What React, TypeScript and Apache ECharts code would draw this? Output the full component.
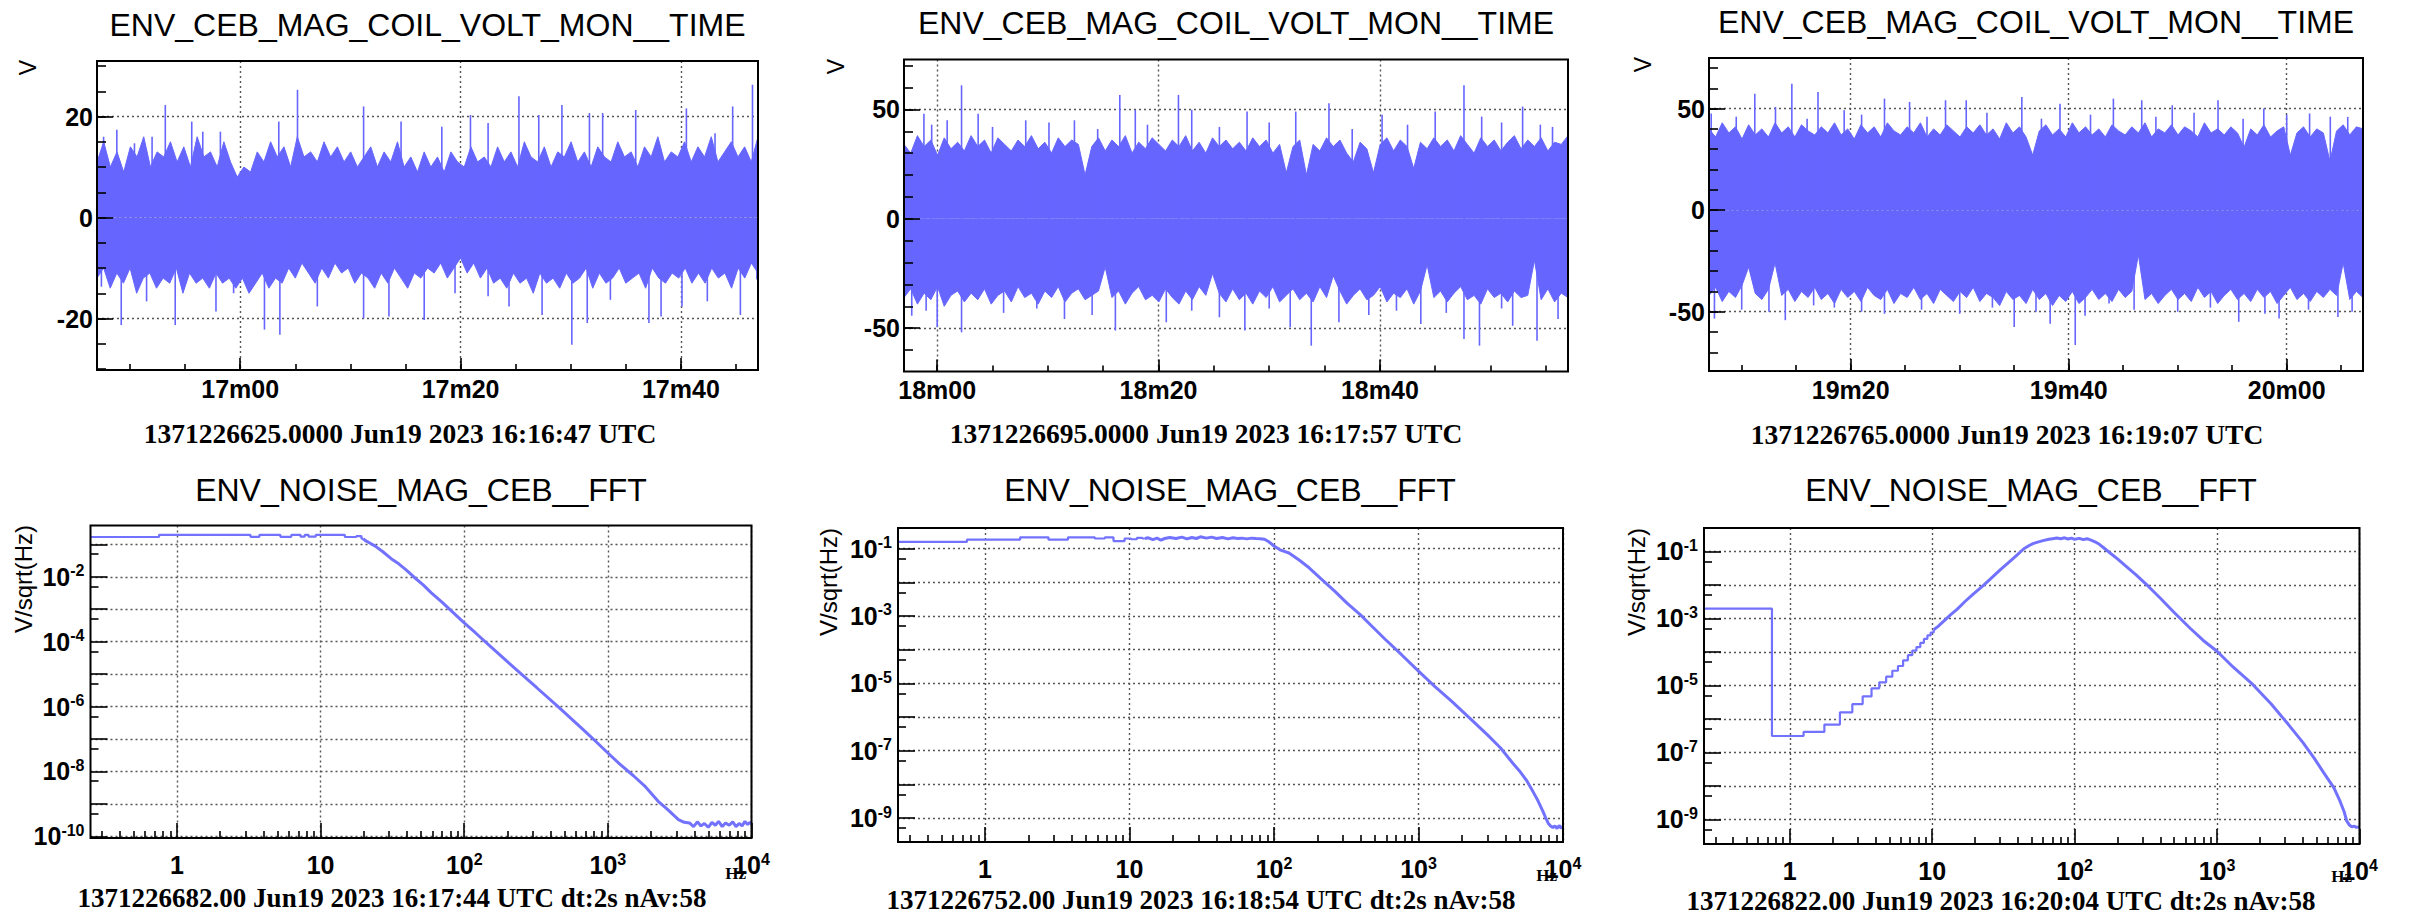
import React, { useEffect, useRef } from 'react';
import * as echarts from 'echarts';

const SANS = '"Liberation Sans", Arial, Helvetica, sans-serif';
const SERIF = '"Liberation Serif", "Times New Roman", Times, serif';
const BAND = '#6666ff';
const FFT_COLOR = '#7272ff';

// ---------- texts ----------
const timeTitle = 'ENV_CEB_MAG_COIL_VOLT_MON__TIME';
const fftTitle = 'ENV_NOISE_MAG_CEB__FFT';
const timeStamps = [
  '1371226625.0000 Jun19 2023 16:16:47 UTC',
  '1371226695.0000 Jun19 2023 16:17:57 UTC',
  '1371226765.0000 Jun19 2023 16:19:07 UTC',
];
const fftStamps = [
  '1371226682.00 Jun19 2023 16:17:44 UTC dt:2s nAv:58',
  '1371226752.00 Jun19 2023 16:18:54 UTC dt:2s nAv:58',
  '1371226822.00 Jun19 2023 16:20:04 UTC dt:2s nAv:58',
];
const timeYTitle = 'V';
const fftYTitle = 'V/sqrt(Hz)';
const fftXTitle = 'Hz';

// ---------- time-series axes (seconds since 16:00:00) ----------
const timeStart = [1007, 1077, 1147];
const timeEnd = [1067, 1137, 1207];
const timeMajor = [
  [1020, 1040, 1060],
  [1080, 1100, 1120],
  [1160, 1180, 1200],
];
const timeMinor = [
  [1010, 1015, 1020, 1025, 1030, 1035, 1040, 1045, 1050, 1055, 1060, 1065],
  [1080, 1085, 1090, 1095, 1100, 1105, 1110, 1115, 1120, 1125, 1130, 1135],
  [1150, 1155, 1160, 1165, 1170, 1175, 1180, 1185, 1190, 1195, 1200, 1205],
];
const voltMin = [-30.2, -69.8, -79.2];
const voltMax = [31, 72.8, 74.9];
const voltMajor = [
  [-20, 0, 20],
  [-50, 0, 50],
  [-50, 0, 50],
];
const voltMinor = [
  [-30, -25, -20, -15, -10, -5, 0, 5, 10, 15, 20, 25, 30],
  [-70, -60, -50, -40, -30, -20, -10, 0, 10, 20, 30, 40, 50, 60, 70],
  [-70, -60, -50, -40, -30, -20, -10, 0, 10, 20, 30, 40, 50, 60, 70],
];

// ---------- time-series values (envelope of the dense trace) ----------
const upper1 = [
  11, 15, 10, 13, 9, 14, 12, 16, 10, 13, 12, 15, 11, 14, 10, 16, 12, 13, 10, 15, 11,
  8, 10, 9,
  13, 11, 15, 12, 14, 10, 16, 12, 13, 11, 15, 12, 14, 11, 13, 10,
  12, 14, 10, 13, 11, 15, 10, 12, 9, 13,
  10, 12, 9, 13, 11, 10, 14, 11, 12, 10,
  14, 11, 13, 10, 15, 12, 11, 14, 10, 13,
  12, 15, 11, 13, 10, 14, 12, 11, 15, 12,
  13, 10, 14, 12, 16, 11, 13, 12, 15, 11,
  14, 12, 16, 11, 13, 15, 12, 14, 11, 16,
];
const lower1 = [
  -12, -10, -14, -11, -13, -10, -15, -12, -11, -14, -12, -13, -10, -15, -11, -13, -12, -14, -11, -13, -12,
  -14, -12, -15, -13, -11, -14, -12, -13,
  -10, -12, -9, -11, -13, -10, -12, -9, -11, -10, -13, -11,
  -12, -14, -11, -13, -10, -12, -14, -11, -12, -10,
  -11, -9, -12, -10, -8, -11, -9, -12, -10, -13,
  -12, -14, -11, -13, -12, -15, -11, -13, -12, -14,
  -11, -13, -12, -10, -14, -11, -13, -12, -10, -13,
  -12, -11, -14, -10, -12, -13, -11, -12, -10, -13,
  -11, -13, -10, -12, -11, -14, -10, -12, -9, -11,
];
const spikes1 = [
  [1007.6, 16], [1008.8, 17.4], [1010.4, 14.7], [1012.0, 16], [1013.2, 22.3], [1015.6, 19], [1016.6, 17],
  [1018.2, 17], [1023.5, 19], [1025.2, 25.3], [1031.2, 22], [1034.6, 19], [1038.3, 18], [1040.9, 20.3],
  [1042.5, 18.7], [1045.3, 24], [1047.1, 20.3], [1049.2, 22.3], [1051.7, 20.7], [1052.9, 20.7],
  [1055.9, 21.3], [1060.5, 21.6], [1063.1, 16.7], [1064.7, 22], [1066.5, 26.3],
  [1007.4, -13.7], [1009.2, -21.3], [1011.5, -16.6], [1014.1, -21.3], [1017.8, -18.6], [1019.4, -15],
  [1022.2, -22.2], [1023.6, -23.2], [1027.0, -17.6], [1031.2, -20], [1033.5, -19.6], [1036.7, -20.3],
  [1039.5, -15], [1042.5, -15.6], [1044.4, -17.6], [1047.4, -19.3], [1050.1, -25.2], [1051.5, -20.9],
  [1053.6, -16.3], [1057.1, -20.9], [1058.2, -19.6], [1060.1, -17.6], [1062.4, -16.6], [1065.4, -19.3],
  [1066.9, -12.3],
];

const upper2 = [
  34, 30, 38, 33, 36, 29, 37, 32, 35, 31,
  38, 33, 36, 30, 37, 34, 31, 36, 33, 38,
  32, 35, 30, 37, 33, 36, 34, 20, 33, 37,
  31, 36, 33, 38, 30, 35, 32, 37, 34, 31,
  36, 33, 38, 31, 35, 30, 37, 33, 36, 32,
  35, 31, 37, 33, 36, 30, 34, 21, 33, 36,
  20, 34, 31, 37, 33, 36, 30, 26, 35, 32,
  21, 34, 37, 31, 36, 33, 23, 35, 32, 37,
  33, 36, 31, 38, 34, 30, 37, 33, 36, 31,
  35, 38, 32, 36, 33, 37, 31, 35, 34, 38,
];
const lower2 = [
  -36, -32, -39, -34, -37, -31, -40, -35, -33, -38,
  -34, -37, -32, -39, -35, -33, -38, -31, -36, -34,
  -39, -33, -36, -31, -38, -34, -32, -37, -35, -33,
  -22, -36, -33, -39, -34, -31, -37, -35, -38, -32,
  -36, -39, -33, -37, -31, -35, -25, -34, -38, -32,
  -37, -34, -39, -33, -36, -31, -38, -35, -32, -37,
  -34, -38, -31, -36, -26, -33, -39, -35, -32, -37,
  -35, -31, -38, -34, -36, -32, -39, -33, -21, -36,
  -33, -38, -34, -31, -37, -35, -39, -32, -36, -34,
  -38, -33, -36, -35, -19, -37, -32, -38, -34, -36,
];
const spikes2 = [
  [1078.8, 48], [1080.9, 45], [1082.2, 61], [1083.7, 48], [1088.0, 45], [1092.4, 45], [1096.5, 56.6],
  [1097.9, 49.8], [1101.8, 56.6], [1103.0, 49.8], [1108.0, 49], [1112.4, 49], [1115.4, 52.8],
  [1120.2, 47.5], [1125.0, 49], [1127.6, 61], [1129.2, 46.7], [1132.9, 51.3], [1134.5, 43], [1135.6, 42],
  [1079.5, 43], [1085.0, 42], [1090.1, 44], [1094.5, 41], [1099.0, 43], [1105.5, 42], [1110.0, 44],
  [1117.5, 41], [1122.5, 43], [1131.0, 44],
  [1077.7, -44.3], [1080.0, -49.6], [1082.2, -51.9], [1091.5, -45.8], [1096.1, -51.1], [1100.7, -47.3],
  [1107.8, -51.1], [1111.9, -49.6], [1113.8, -58], [1116.3, -47.3], [1123.7, -48.1], [1127.6, -54.9],
  [1129.0, -58], [1132.0, -48.9], [1134.2, -55.7], [1136.1, -45.8],
  [1079.0, -42], [1086.0, -43], [1089.0, -41], [1094.0, -44], [1103.0, -42], [1105.5, -45], [1110.0, -41],
  [1119.0, -44], [1121.5, -42], [1126.0, -43], [1131.0, -41],
];

const upper3 = [
  40, 36, 43, 38, 41, 35, 42, 37, 40, 36,
  43, 38, 41, 36, 42, 39, 37, 41, 38, 43,
  37, 40, 35, 42, 38, 41, 36, 43, 39, 37,
  41, 38, 43, 36, 40, 37, 42, 39, 36, 41,
  38, 42, 37, 40, 35, 43, 38, 41, 36, 27,
  39, 42, 37, 40, 36, 43, 38, 41, 37, 40,
  36, 42, 39, 37, 41, 38, 43, 36, 40, 38,
  42, 37, 41, 39, 36, 43, 38, 40, 37, 41,
  38, 31, 40, 37, 42, 36, 39, 41, 27, 38,
  41, 36, 40, 38, 24, 39, 42, 37, 41, 40,
];
const lower3 = [
  -42, -38, -45, -40, -43, -37, -28, -41, -44, -39,
  -26, -42, -39, -45, -40, -43, -38, -44, -41, -46,
  -39, -43, -40, -45, -38, -42, -44, -39, -46, -41,
  -43, -38, -44, -41, -46, -39, -42, -45, -40, -43,
  -38, -45, -41, -43, -47, -40, -44, -42, -46, -39,
  -44, -41, -47, -42, -45, -40, -46, -43, -39, -44,
  -41, -45, -39, -43, -40, -22, -44, -41, -46, -42,
  -39, -44, -41, -45, -38, -43, -40, -46, -42, -39,
  -44, -41, -45, -39, -43, -40, -46, -42, -38, -44,
  -41, -45, -40, -43, -39, -42, -26, -44, -40, -43,
];
const spikes3 = [
  [1147.2, 47.6], [1151.2, 57.3], [1153.1, 50.8], [1154.6, 62.2], [1157.0, 58.1], [1159.4, 49.2],
  [1163.1, 54.9], [1165.4, 53.3], [1168.7, 54.1], [1170.6, 54.1], [1175.7, 55.7], [1179.2, 52.4],
  [1184.1, 54.9], [1186.7, 54.1], [1189.5, 51.6], [1193.7, 54.1], [1197.9, 50], [1202.1, 47.6], [1205.6, 45.9],
  [1149.5, 46], [1156.0, 45], [1161.0, 47], [1167.0, 46], [1172.5, 48], [1177.5, 45], [1182.0, 47],
  [1188.0, 46], [1191.5, 48], [1196.0, 45], [1200.0, 47], [1204.0, 46],
  [1147.5, -53.4], [1154.0, -54.2], [1156.6, -46.9], [1163.1, -51], [1175.0, -57.5], [1178.3, -55.9],
  [1180.6, -66.4], [1183.7, -46], [1195.6, -55], [1199.3, -53.4], [1204.7, -52.6],
  [1150.0, -49], [1152.5, -50], [1158.5, -48], [1161.0, -50], [1166.5, -49], [1170.0, -51], [1173.0, -48],
  [1177.0, -50], [1181.5, -52], [1186.0, -49], [1190.0, -50], [1193.0, -48], [1198.0, -51], [1202.0, -49],
  [1206.0, -50],
];

const upperEnv = [upper1, upper2, upper3];
const lowerEnv = [lower1, lower2, lower3];
const spikes = [spikes1, spikes2, spikes3];

// ---------- FFT axes ----------
const freqMin = 0.25;
const freqMax = 10000;
const freqMajor = [1, 10, 100, 1000, 10000];
const freqMinor = [
  0.3, 0.4, 0.5, 0.6, 0.7, 0.8, 0.9,
  2, 3, 4, 5, 6, 7, 8, 9,
  20, 30, 40, 50, 60, 70, 80, 90,
  200, 300, 400, 500, 600, 700, 800, 900,
  2000, 3000, 4000, 5000, 6000, 7000, 8000, 9000,
];
const asdMin = [8.9e-11, 1.94e-10, 1.85e-10];
const asdMax = [0.38, 0.41, 0.5];
const asdDecades = [1e-10, 1e-9, 1e-8, 1e-7, 1e-6, 1e-5, 1e-4, 1e-3, 1e-2, 1e-1];
const asdLabels = [
  [1e-10, 1e-8, 1e-6, 1e-4, 1e-2],
  [1e-9, 1e-7, 1e-5, 1e-3, 1e-1],
  [1e-9, 1e-7, 1e-5, 1e-3, 1e-1],
];
const asdMinor = [5e-10, 5e-9, 5e-8, 5e-7, 5e-6, 5e-5, 5e-4, 5e-3, 5e-2];

// ---------- FFT values [Hz, V/sqrt(Hz)] ----------
const fft4Step = [
  [0.25, 0.168], [0.75, 0.195], [3.25, 0.17], [3.75, 0.195], [5.25, 0.17], [6.25, 0.195], [7.25, 0.172],
  [7.75, 0.195], [8.25, 0.172], [9.25, 0.195], [14.75, 0.168], [17.75, 0.18], [19.25, 0.15], [19.75, 0.15],
];
const fft4Line = [
  [19.75, 0.15], [20.5, 0.13], [22, 0.11], [24, 0.088], [27, 0.06], [31, 0.036], [35, 0.025], [39, 0.0168],
  [45, 0.0095], [52, 0.0055], [59, 3.2e-3], [70, 1.65e-3], [82, 8.6e-4], [100, 3.8e-4], [120, 1.85e-4],
  [150, 7.6e-5], [198, 2.5e-5], [250, 1e-5], [320, 3.8e-6], [446, 1.03e-6], [560, 4.1e-7], [700, 1.65e-7],
  [850, 7.4e-8], [1000, 3.7e-8], [1200, 1.75e-8], [1500, 7.5e-9], [1800, 3.6e-9], [2240, 1.2e-9],
  [2600, 6.8e-10], [2870, 4.5e-10], [3100, 3.3e-10], [3400, 2.7e-10], [3700, 2.6e-10], [3950, 2.0e-10],
  [4200, 2.8e-10], [4450, 2.1e-10], [4700, 2.5e-10], [5000, 1.9e-10], [5300, 2.7e-10], [5600, 2.2e-10],
  [5900, 2.9e-10], [6250, 2.0e-10], [6600, 2.6e-10], [7000, 2.2e-10], [7400, 2.8e-10], [7800, 2.0e-10],
  [8200, 2.5e-10], [8600, 2.1e-10], [9000, 2.9e-10], [9400, 2.3e-10], [9700, 2.7e-10], [10000, 2.4e-10],
];
const fft5Step = [
  [0.25, 0.158], [0.75, 0.185], [1.75, 0.217], [2.75, 0.185], [3.75, 0.217], [5.75, 0.2], [6.75, 0.215],
  [7.75, 0.168], [9.25, 0.2], [10.25, 0.19], [11.25, 0.21], [12.25, 0.2], [12.75, 0.2],
];
const fft5Line = [
  [12.75, 0.2], [13.5, 0.21], [14.5, 0.185], [15.5, 0.205], [16.5, 0.18], [17.5, 0.2], [19, 0.215],
  [21, 0.2], [23, 0.22], [25, 0.195], [27, 0.215], [29, 0.2], [31, 0.225], [34, 0.205], [37, 0.22],
  [40, 0.2], [44, 0.215], [48, 0.195], [52, 0.21], [56, 0.2], [60, 0.205], [65, 0.195], [70, 0.205],
  [75, 0.2], [80, 0.198], [86, 0.19], [92, 0.16], [100, 0.12], [110, 0.092], [127, 0.074], [150, 0.045],
  [175, 0.027], [210, 0.013], [264, 5.4e-3], [320, 2.4e-3], [395, 1.1e-3], [480, 4.8e-4], [590, 2e-4],
  [760, 7.2e-5], [1000, 2.3e-5], [1300, 8e-6], [1700, 2.9e-6], [2300, 8.6e-7], [2990, 3e-7], [3700, 1.2e-7],
  [4480, 4.3e-8], [5000, 2.5e-8], [5600, 1.3e-8], [6170, 6.3e-9], [6700, 3.3e-9], [7250, 1.6e-9],
  [7600, 1e-9], [7900, 7e-10], [8200, 5.8e-10], [8500, 5.2e-10], [8800, 5.8e-10], [9100, 4.9e-10],
  [9400, 6e-10], [9700, 5e-10], [10000, 5.6e-10],
];
const fft6Step = [
  [0.25, 1.97e-3], [0.75, 3.1e-7], [1.25, 4.1e-7], [1.75, 6.8e-7], [2.25, 1.58e-6], [2.75, 2.78e-6],
  [3.25, 4.7e-6], [3.75, 8.2e-6], [4.25, 1.24e-5], [4.75, 1.82e-5], [5.25, 2.74e-5], [5.75, 3.8e-5],
  [6.25, 5.6e-5], [6.75, 8e-5], [7.25, 1.1e-4], [7.75, 1.4e-4], [8.25, 1.87e-4], [8.75, 2.45e-4],
  [9.25, 3.1e-4], [9.75, 3.8e-4], [10.25, 4.6e-4],
];
const fft6Line = [
  [10.25, 4.6e-4], [11, 5.8e-4], [12, 8.2e-4], [13.5, 1.3e-3], [15, 1.9e-3], [17, 3.2e-3], [19.5, 5.4e-3],
  [22.8, 9.5e-3], [26, 0.016], [30, 0.028], [34, 0.045], [39, 0.075], [44, 0.12], [48, 0.15], [51, 0.17],
  [55, 0.19], [60, 0.21], [66, 0.23], [70, 0.24], [75, 0.25], [80, 0.24], [85, 0.255], [90, 0.235],
  [95, 0.25], [100, 0.23], [108, 0.245], [115, 0.225], [122, 0.24], [133, 0.21], [140, 0.19], [150, 0.16],
  [163, 0.12], [180, 0.085], [200, 0.06], [230, 0.036], [270, 0.02], [330, 9e-3], [400, 4e-3], [500, 1.5e-3],
  [650, 5e-4], [800, 2.2e-4], [1000, 1.05e-4], [1300, 3.5e-5], [1780, 1.07e-5], [2400, 2.8e-6],
  [3160, 6.9e-7], [4000, 2e-7], [4790, 6.9e-8], [5600, 2.5e-8], [6600, 8.9e-9], [7300, 3.5e-9],
  [7800, 1.7e-9], [8130, 9.1e-10], [8500, 6.8e-10], [8830, 6e-10], [9200, 6.3e-10], [9500, 5.8e-10],
  [10000, 6e-10],
];
const fftStep = [fft4Step, fft5Step, fft6Step];
const fftLine = [fft4Line, fft5Line, fft6Line];

// ---------- layout (pixels) ----------
const topGrids = [
  { left: 97, top: 61, width: 661, height: 309 },
  { left: 904, top: 59.5, width: 664, height: 312 },
  { left: 1709, top: 58, width: 654, height: 313 },
];
const botGrids = [
  { left: 90.5, top: 525.5, width: 661, height: 312.5 },
  { left: 898, top: 528, width: 665, height: 314 },
  { left: 1704, top: 528, width: 655.5, height: 316 },
];
const titleTopPos = [[427.5, 25], [1236, 23], [2036, 22]];
const titleBotPos = [[421, 490], [1230, 490], [2031, 490]];
const stampTopPos = [[400, 433], [1206, 433], [2007, 434]];
const stampBotPos = [[392, 898], [1201, 900], [2001, 901]];
const vTitlePos = [[28, 60], [836, 59], [1643, 57]];
const asdTitlePos = [[23, 525], [828, 528], [1636, 528]];
const hzPos = [[746, 873], [1557, 875], [2352, 876]];

const GRID_LINE = { type: [2, 3], color: '#555', width: 1.4 };
const TICK_LINE = { color: '#000', width: 1.6 };

function timeLabel(v: number) {
  const m = Math.floor(v / 60 + 1e-9);
  const s = Math.round(v - m * 60);
  return `${m}m${s < 10 ? '0' : ''}${s}`;
}
function powLabel(v: number) {
  const e = Math.round(Math.log10(v));
  if (e === 0) return '1';
  if (e === 1) return '10';
  return `{b|10}{s|${e}}`;
}
const richSup = {
  b: { fontSize: 25, fontWeight: 'bold', fontFamily: SANS, color: '#000', lineHeight: 28 },
  s: { fontSize: 16, fontWeight: 'bold', fontFamily: SANS, color: '#000', lineHeight: 16, verticalAlign: 'top' },
};

function axisTriple(
  dim: 'x' | 'y', grid: number, scale: any, majors: number[], labels: number[], minors: number[],
  majLen: number, minLen: number, label: any,
) {
  const position = dim === 'x' ? 'bottom' : 'left';
  const common = {
    gridIndex: grid, position, ...scale,
    axisLine: { show: false, onZero: false },
    splitArea: { show: false },
    minorTick: { show: false },
    minorSplitLine: { show: false },
    axisPointer: { show: false },
  };
  return [
    {
      ...common, z: 1,
      axisTick: { show: false, customValues: majors },
      axisLabel: { show: false, customValues: majors },
      splitLine: { show: true, lineStyle: GRID_LINE },
    },
    {
      ...common, z: 30,
      axisTick: { show: true, inside: true, length: majLen, customValues: majors, lineStyle: TICK_LINE },
      axisLabel: { ...label, customValues: labels },
      splitLine: { show: false },
    },
    {
      ...common, z: 30,
      axisTick: { show: true, inside: true, length: minLen, customValues: minors, lineStyle: TICK_LINE },
      axisLabel: { show: false },
      splitLine: { show: false },
    },
  ];
}

function txt(x: number, y: number, text: string, fontSize: number, fontFamily: string, fontWeight: string, align = 'center', rotation = 0) {
  return {
    type: 'text', x, y, rotation, silent: true, z: 50,
    style: {
      text, fill: '#000', fontSize, fontFamily, fontWeight,
      align, verticalAlign: 'middle', textAlign: align, textVerticalAlign: 'middle',
    },
  };
}

function buildOption() {
  const grid: any[] = [];
  const xAxis: any[] = [];
  const yAxis: any[] = [];
  const series: any[] = [];
  const graphic: any[] = [];

  const topLabel = { show: true, fontSize: 25, fontWeight: 'bold', fontFamily: SANS, color: '#000' };

  for (let k = 0; k < 3; k++) {
    const g = k;
    grid.push({ ...topGrids[k], show: true, borderColor: '#000', borderWidth: 2, backgroundColor: 'transparent', z: 40, outerBoundsMode: 'none', containLabel: false });
    xAxis.push(...axisTriple('x', g, { type: 'value', min: timeStart[k], max: timeEnd[k] },
      timeMajor[k], timeMajor[k], timeMinor[k], 12, 6,
      { ...topLabel, margin: 6, formatter: timeLabel }));
    yAxis.push(...axisTriple('y', g, { type: 'value', min: voltMin[k], max: voltMax[k] },
      voltMajor[k], voltMajor[k], voltMinor[k], 16, 9,
      { ...topLabel, margin: 4, formatter: (v: number) => String(v) }));
    const ai = 3 * g;
    const span = timeEnd[k] - timeStart[k];
    const nu = upperEnv[k].length;
    const nl = lowerEnv[k].length;
    series.push({
      type: 'line', xAxisIndex: ai, yAxisIndex: ai, silent: true, symbol: 'none', z: 5,
      data: upperEnv[k].map((v, i) => [timeStart[k] + (i * span) / (nu - 1), v]),
      lineStyle: { width: 1, color: BAND }, areaStyle: { color: BAND, opacity: 1 },
    });
    series.push({
      type: 'line', xAxisIndex: ai, yAxisIndex: ai, silent: true, symbol: 'none', z: 5,
      data: lowerEnv[k].map((v, i) => [timeStart[k] + (i * span) / (nl - 1), v]),
      lineStyle: { width: 1, color: BAND }, areaStyle: { color: BAND, opacity: 1 },
    });
    series.push({
      type: 'bar', xAxisIndex: ai, yAxisIndex: ai, silent: true, z: 5, barWidth: 1.6,
      data: spikes[k], itemStyle: { color: BAND },
    });

    graphic.push(txt(titleTopPos[k][0], titleTopPos[k][1], timeTitle, 32, SANS, 'normal'));
    graphic.push(txt(stampTopPos[k][0], stampTopPos[k][1], timeStamps[k], 27.5, SERIF, 'bold'));
    graphic.push(txt(vTitlePos[k][0], vTitlePos[k][1], timeYTitle, 23, SANS, 'normal', 'right', Math.PI / 2));
  }

  for (let k = 0; k < 3; k++) {
    const g = 3 + k;
    grid.push({ ...botGrids[k], show: true, borderColor: '#000', borderWidth: 2, backgroundColor: 'transparent', z: 40, outerBoundsMode: 'none', containLabel: false });
    const lo = asdMin[k];
    const hi = asdMax[k];
    xAxis.push(...axisTriple('x', g, { type: 'log', logBase: 10, min: freqMin, max: freqMax },
      freqMajor, freqMajor, freqMinor, 15, 7,
      { show: true, margin: 13, fontSize: 25, fontWeight: 'bold', fontFamily: SANS, color: '#000', lineHeight: 28, formatter: powLabel, rich: richSup }));
    yAxis.push(...axisTriple('y', g, { type: 'log', logBase: 10, min: lo, max: hi },
      asdDecades.filter((v) => v >= lo && v <= hi), asdLabels[k], asdMinor.filter((v) => v >= lo && v <= hi), 17, 8,
      { show: true, margin: 6, fontSize: 25, fontWeight: 'bold', fontFamily: SANS, color: '#000', lineHeight: 28, formatter: powLabel, rich: richSup }));
    const ai = 3 * g;
    series.push({
      type: 'line', xAxisIndex: ai, yAxisIndex: ai, silent: true, symbol: 'none', z: 5, step: 'end',
      data: fftStep[k], lineStyle: { width: 2.2, color: FFT_COLOR },
    });
    series.push({
      type: 'line', xAxisIndex: ai, yAxisIndex: ai, silent: true, symbol: 'none', z: 5,
      data: fftLine[k], lineStyle: { width: 3, color: FFT_COLOR },
    });

    graphic.push(txt(titleBotPos[k][0], titleBotPos[k][1], fftTitle, 32, SANS, 'normal'));
    graphic.push(txt(stampBotPos[k][0], stampBotPos[k][1], fftStamps[k], 27, SERIF, 'bold'));
    graphic.push(txt(asdTitlePos[k][0], asdTitlePos[k][1], fftYTitle, 24, SANS, 'normal', 'right', Math.PI / 2));
    graphic.push(txt(hzPos[k][0], hzPos[k][1], fftXTitle, 17, SERIF, 'bold', 'right'));
  }

  return {
    animation: false,
    backgroundColor: '#fff',
    textStyle: { fontFamily: SANS },
    grid, xAxis, yAxis, series, graphic,
  };
}

export default function App() {
  const ref = useRef<HTMLDivElement>(null);
  useEffect(() => {
    if (!ref.current) return;
    const chart = echarts.init(ref.current, null, { renderer: 'svg' });
    chart.setOption(buildOption() as any);
    return () => chart.dispose();
  }, []);
  return (
    <div
      ref={ref}
      style={{ position: 'fixed', left: 0, top: 0, width: 2417, height: 918, background: '#fff' }}
    />
  );
}
